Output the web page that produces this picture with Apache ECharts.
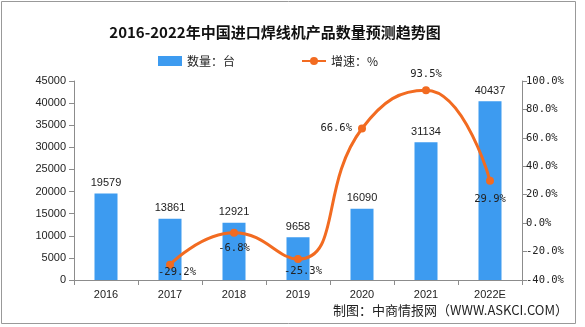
<!DOCTYPE html>
<html>
<head>
<meta charset="utf-8">
<script src="https://cdn.jsdelivr.net/npm/echarts@6/dist/echarts.min.js"></script>
<style>
  html, body { margin: 0; padding: 0; background: #fff; }
  #chart { width: 585px; height: 327px; }
</style>
</head>
<body>
<div id="chart"></div>
<script>
// Import volume of welding machines (units) and year-on-year growth (%)
var years = ['2016', '2017', '2018', '2019', '2020', '2021', '2022E'];
var volume = [19579, 13861, 12921, 9658, 16090, 31134, 40437];
var growth = [null, -29.2, -6.8, -25.3, 66.6, 93.5, 29.9];

// where each growth label sits relative to its point
var growthLabelStyle = [
  null,
  { position: 'bottom', distance: 0, offset: [7, -2] },
  { position: 'bottom', distance: 6, offset: [0, 0] },
  { position: 'bottom', distance: 3, offset: [5, 0] },
  { position: 'left', distance: 6, offset: [0, 0] },
  { position: 'top', distance: 6, offset: [0, 0] },
  { position: 'bottom', distance: 9, offset: [0, 0] }
];

var barColor = '#3d9bf0';
var lineColor = '#f26b21';
var axisColor = '#8c8c8c';
var sans = '"Liberation Sans", Arial, sans-serif';
var mono = '"DejaVu Sans Mono", "Liberation Mono", monospace';
var cjk = '"Noto Sans CJK SC", sans-serif';

var chart = echarts.init(document.getElementById('chart'));

var lineData = growth.map(function (v, i) {
  if (v === null) return null;
  return { value: v, label: growthLabelStyle[i] };
});

chart.setOption({
  animation: false,
  backgroundColor: '#fff',
  title: {
    text: '2016-2022年中国进口焊线机产品数量预测趋势图',
    left: 270,
    textAlign: 'center',
    top: 20,
    textStyle: { fontFamily: cjk, fontSize: 15, fontWeight: 'bold', color: '#111' }
  },
  legend: {
    top: 50,
    left: 153,
    itemGap: 66,
    itemWidth: 24,
    itemHeight: 10,
    textStyle: { fontFamily: cjk, fontSize: 12, color: '#222' },
    data: [
      { name: '数量：台', icon: 'rect' },
      { name: '增速：%' }
    ]
  },
  grid: { left: 74, right: 63, top: 81, bottom: 47 },
  xAxis: {
    type: 'category',
    data: years,
    axisLine: { lineStyle: { color: axisColor } },
    axisTick: { show: true, alignWithLabel: false, length: 5, lineStyle: { color: axisColor } },
    axisLabel: { fontFamily: sans, fontSize: 11, color: '#222', margin: 9 }
  },
  yAxis: [
    {
      type: 'value',
      min: 0, max: 45000, interval: 5000,
      splitLine: { show: false },
      axisLine: { show: true, lineStyle: { color: axisColor } },
      axisTick: { show: true, length: 5, lineStyle: { color: axisColor } },
      axisLabel: {
        fontFamily: sans, fontSize: 11, color: '#222', margin: 8,
        formatter: function (v) { return String(v); }
      }
    },
    {
      type: 'value',
      min: -40, max: 100, interval: 20,
      splitLine: { show: false },
      axisLine: { show: true, lineStyle: { color: axisColor } },
      axisTick: { show: true, length: 5, lineStyle: { color: axisColor } },
      axisLabel: {
        fontFamily: mono, fontSize: 10.5, color: '#222', margin: 4,
        formatter: function (v) { return v.toFixed(1) + '%'; }
      }
    }
  ],
  series: [
    {
      name: '数量：台',
      type: 'bar',
      data: volume,
      barWidth: 23,
      itemStyle: { color: barColor },
      label: {
        show: true, position: 'top', distance: 5,
        fontFamily: sans, fontSize: 11, color: '#222'
      }
    },
    {
      name: '增速：%',
      type: 'line',
      yAxisIndex: 1,
      data: lineData,
      smooth: 0.5,
      connectNulls: false,
      symbol: 'circle',
      symbolSize: 8,
      showSymbol: true,
      lineStyle: { color: lineColor, width: 3 },
      itemStyle: { color: lineColor },
      label: {
        show: true,
        fontFamily: mono, fontSize: 10.5, color: '#222',
        formatter: function (p) { return p.value.toFixed(1) + '%'; }
      },
      z: 3
    }
  ],
  graphic: [
    {
      type: 'rect',
      shape: { x: 1.5, y: 1.5, width: 574, height: 322 },
      style: { fill: 'none', stroke: '#999', lineWidth: 1 },
      silent: true
    },
    {
      type: 'text',
      right: 17,
      top: 304,
      style: {
        text: '制图：中商情报网（WWW.ASKCI.COM）',
        font: '13px ' + cjk,
        fill: '#222'
      }
    }
  ]
});
</script>
</body>
</html>
